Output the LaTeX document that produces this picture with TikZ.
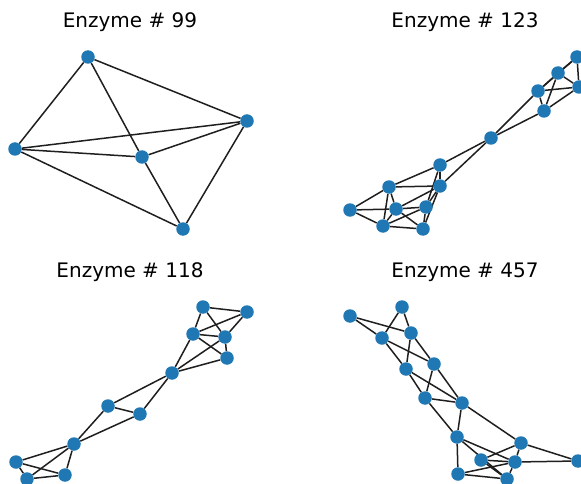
\documentclass[tikz,border=0pt]{standalone}
\usepackage{fontspec}
\setmainfont{DejaVu Sans}
\usetikzlibrary{backgrounds}
\definecolor{nodeblue}{HTML}{1F77B4}

\begin{document}
\begin{tikzpicture}[
  x=1pt, y=-1pt,
  vtx/.style={circle, fill=nodeblue, inner sep=0pt, minimum size=13.5pt},
  edge/.style={line width=1.5pt, black!88},
  title/.style={anchor=base, font=\fontsize{20}{24}\selectfont}
]
\useasboundingbox (0,0) rectangle (581,484);

% titles
\node[title] (t99) at (130,28) {Enzyme \# 99};
\node[title] (t123) at (465,28) {Enzyme \# 123};
\node[title] (t118) at (130,277) {Enzyme \# 118};
\node[title] (t457) at (465,277) {Enzyme \# 457};

% enzyme 99
\node[vtx] (a1) at (88,57) {};
\node[vtx] (a2) at (15,149) {};
\node[vtx] (a3) at (142,157) {};
\node[vtx] (a4) at (247,121) {};
\node[vtx] (a5) at (183,229) {};

% enzyme 123
\node[vtx] (b1) at (577,57) {};
\node[vtx] (b2) at (558,73) {};
\node[vtx] (b3) at (579,87) {};
\node[vtx] (b4) at (538,91) {};
\node[vtx] (b5) at (544,111) {};
\node[vtx] (b6) at (491,138) {};
\node[vtx] (b7) at (440,165) {};
\node[vtx] (b8) at (440,186) {};
\node[vtx] (b9) at (389,187) {};
\node[vtx] (b10) at (350,210) {};
\node[vtx] (b11) at (396,209) {};
\node[vtx] (b12) at (426,207) {};
\node[vtx] (b13) at (383,226) {};
\node[vtx] (b14) at (423,229) {};

% enzyme 118
\node[vtx] (c1) at (203,307) {};
\node[vtx] (c2) at (247,312) {};
\node[vtx] (c3) at (193,334) {};
\node[vtx] (c4) at (225,337) {};
\node[vtx] (c5) at (227,358) {};
\node[vtx] (c6) at (172,373) {};
\node[vtx] (c7) at (108,406) {};
\node[vtx] (c8) at (140,414) {};
\node[vtx] (c9) at (74,444) {};
\node[vtx] (c10) at (16,462) {};
\node[vtx] (c11) at (27,479) {};
\node[vtx] (c12) at (65,475) {};

% enzyme 457
\node[vtx] (d1) at (350,316) {};
\node[vtx] (d2) at (402,307) {};
\node[vtx] (d3) at (382,338) {};
\node[vtx] (d4) at (411,333) {};
\node[vtx] (d5) at (406,369) {};
\node[vtx] (d6) at (434,364) {};
\node[vtx] (d7) at (425,398) {};
\node[vtx] (d8) at (462,403) {};
\node[vtx] (d9) at (457,437) {};
\node[vtx] (d10) at (521,443) {};
\node[vtx] (d11) at (481,460) {};
\node[vtx] (d12) at (515,462) {};
\node[vtx] (d13) at (458,474) {};
\node[vtx] (d14) at (507,479) {};
\node[vtx] (d15) at (578,461) {};

% edges go under the nodes
\begin{scope}[on background layer]
\foreach \u/\v in {a1/a2, a1/a3, a1/a4, a2/a3, a2/a4, a2/a5, a3/a4, a3/a5, a4/a5}
  \draw[edge] (\u) -- (\v);
\foreach \u/\v in {b1/b2, b1/b3, b1/b4, b2/b3, b2/b4, b2/b5, b4/b3, b4/b5, b5/b3,
    b6/b4, b6/b5, b6/b7, b6/b8, b7/b8, b7/b9, b7/b12, b8/b9, b8/b11, b8/b12, b8/b14,
    b9/b10, b9/b11, b9/b13, b10/b11, b10/b13, b11/b12, b11/b13, b11/b14,
    b12/b13, b12/b14, b13/b14}
  \draw[edge] (\u) -- (\v);
\foreach \u/\v in {c1/c2, c1/c3, c1/c4, c2/c3, c2/c4, c3/c4, c3/c5, c4/c5,
    c3/c6, c4/c6, c5/c6, c6/c7, c6/c8, c7/c8, c7/c9, c8/c9,
    c9/c10, c9/c11, c9/c12, c10/c11, c10/c12, c11/c12}
  \draw[edge] (\u) -- (\v);
\foreach \u/\v in {d1/d3, d1/d4, d2/d3, d2/d4, d3/d5, d3/d6, d4/d5, d4/d6,
    d5/d7, d5/d8, d6/d7, d6/d8, d7/d8, d7/d9, d8/d9, d8/d10,
    d9/d12, d9/d13, d9/d14, d10/d11, d10/d12, d10/d15, d11/d12, d11/d14,
    d12/d13, d12/d14, d12/d15, d13/d14}
  \draw[edge] (\u) -- (\v);
\end{scope}
\end{tikzpicture}
\end{document}
